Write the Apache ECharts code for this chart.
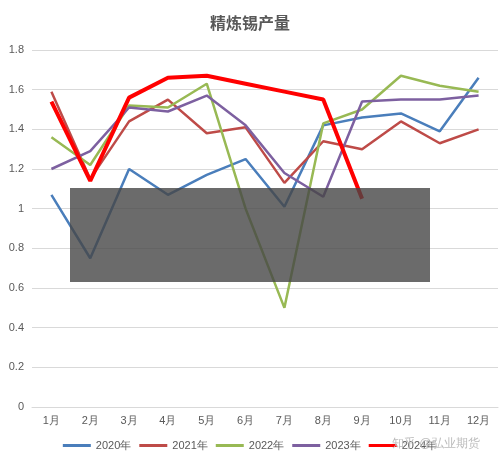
<!DOCTYPE html>
<html><head><meta charset="utf-8">
<script src="https://cdn.jsdelivr.net/npm/echarts@6/dist/echarts.min.js"></script>
<style>html,body{margin:0;background:#fff}#c{width:500px;height:470px}</style></head>
<body><div id="c"></div>
<script>
const months=['1月','2月','3月','4月','5月','6月','7月','8月','9月','10月','11月','12月'];
const s2020=[1.07,0.75,1.20,1.07,1.17,1.25,1.01,1.42,1.46,1.48,1.39,1.66];
const s2021=[1.59,1.15,1.44,1.55,1.38,1.41,1.13,1.34,1.30,1.44,1.33,1.40];
const s2022=[1.36,1.22,1.52,1.51,1.63,1.00,0.50,1.43,1.50,1.67,1.62,1.59];
const s2023=[1.20,1.29,1.51,1.49,1.57,1.42,1.18,1.06,1.54,1.55,1.55,1.57];
const s2024=[1.54,1.14,1.56,1.66,1.67,1.63,1.59,1.55,1.05];
const names=['2020年','2021年','2022年','2023年','2024年'];
const colors=['#4a7ebb','#be4b48','#98b954','#7d60a0','#ff0000'];
const data=[s2020,s2021,s2022,s2023,s2024];
const chart=echarts.init(document.getElementById('c'));
chart.setOption({
 title:{text:'精炼锡产量',left:'center',top:10,textStyle:{fontSize:16,fontWeight:'bold',color:'#595959',fontFamily:'Noto Sans CJK SC'}},
 grid:{left:32,right:2,top:50,bottom:63},
 legend:{bottom:14,itemWidth:28,itemHeight:3,icon:'rect',textStyle:{fontSize:11,color:'#595959'},data:names},
 xAxis:{type:'category',data:months,boundaryGap:true,axisLine:{lineStyle:{color:'#d9d9d9'}},axisTick:{show:false},axisLabel:{color:'#595959',fontSize:11}},
 yAxis:{type:'value',min:0,max:1.8,interval:0.2,axisLabel:{color:'#595959',fontSize:11,formatter:v=>String(+v.toFixed(1))},splitLine:{lineStyle:{color:'#d9d9d9'}}},
 series:data.map((d,i)=>({name:names[i],type:'line',data:d,symbol:'none',color:colors[i],lineStyle:{width:i===4?4:2.5,color:colors[i]},z:i===4?5:2})),
 graphic:[
  {type:'rect',shape:{x:70,y:188,width:360,height:94},style:{fill:'rgba(70,70,70,0.8)'},z:100},
  {type:'text',left:392,top:438,style:{text:'知乎 @弘业期货',fill:'#bbb',fontSize:12},z:100}
 ]
});
</script></body></html>
